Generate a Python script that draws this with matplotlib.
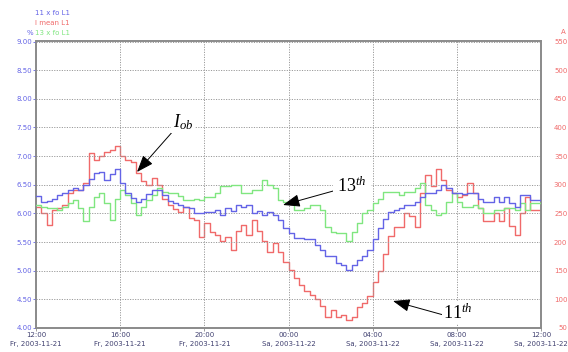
import matplotlib
matplotlib.use("Agg")
import matplotlib.pyplot as plt
import matplotlib.dates as mdates
from matplotlib.ticker import FuncFormatter, FixedLocator
import pandas as pd

plt.rcParams["mathtext.fontset"] = "custom"
plt.rcParams["mathtext.rm"] = "Liberation Serif"
plt.rcParams["mathtext.it"] = "Liberation Serif:italic"

# 15-minute values, Fr 2003-11-21 12:00 .. Sa 2003-11-22 12:00
h11_pct = [6.30, 6.20, 6.22, 6.26, 6.32, 6.35, 6.40, 6.45, 6.40, 6.50, 6.60, 6.70,
           6.72, 6.58, 6.68, 6.78, 6.53, 6.35, 6.27, 6.20, 6.26, 6.33, 6.40, 6.40,
           6.32, 6.22, 6.19, 6.15, 6.12, 6.10, 6.00, 6.00, 6.02, 6.03, 6.06, 5.97,
           6.10, 6.04, 6.15, 6.12, 6.15, 6.00, 6.05, 5.98, 6.02, 5.97, 5.88, 5.75,
           5.66, 5.57, 5.57, 5.55, 5.55, 5.45, 5.36, 5.25, 5.25, 5.13, 5.10, 5.01,
           5.10, 5.18, 5.25, 5.36, 5.55, 5.75, 5.90, 6.03, 6.06, 6.10, 6.15, 6.15,
           6.20, 6.29, 6.35, 6.35, 6.41, 6.50, 6.44, 6.35, 6.35, 6.33, 6.35, 6.35,
           6.26, 6.20, 6.20, 6.29, 6.20, 6.29, 6.18, 6.12, 6.32, 6.32, 6.23, 6.23]

h13_pct = [6.15, 6.12, 6.09, 6.09, 6.06, 6.12, 6.18, 6.23, 6.09, 5.86, 6.12, 6.29,
           6.35, 6.18, 5.88, 6.26, 6.41, 6.32, 6.18, 5.97, 6.12, 6.23, 6.32, 6.44,
           6.38, 6.35, 6.35, 6.30, 6.23, 6.23, 6.25, 6.23, 6.29, 6.29, 6.35, 6.47,
           6.47, 6.50, 6.50, 6.35, 6.35, 6.41, 6.41, 6.58, 6.50, 6.45, 6.23, 6.20,
           6.18, 6.06, 6.06, 6.10, 6.15, 6.15, 6.06, 5.77, 5.68, 5.65, 5.65, 5.51,
           5.68, 5.83, 6.00, 6.06, 6.18, 6.25, 6.38, 6.38, 6.38, 6.32, 6.38, 6.38,
           6.45, 6.53, 6.15, 6.06, 5.97, 6.00, 6.20, 6.35, 6.20, 6.12, 6.12, 6.15,
           6.09, 6.00, 6.00, 6.06, 6.06, 6.09, 6.09, 6.06, 6.18, 6.06, 6.18, 6.18]

i_mean_a = [262, 250, 230, 256, 260, 265, 285, 290, 290, 303, 355, 343,
            350, 358, 360, 367, 350, 343, 340, 320, 306, 300, 312, 300,
            276, 265, 258, 253, 262, 242, 238, 209, 233, 218, 212, 201,
            209, 186, 220, 230, 212, 238, 220, 201, 183, 198, 183, 166,
            151, 138, 125, 115, 108, 100, 88, 70, 81, 70, 73, 64,
            70, 87, 93, 105, 130, 150, 180, 210, 227, 227, 250, 245,
            226, 285, 317, 297, 328, 309, 291, 285, 279, 282, 303, 285,
            259, 236, 236, 250, 236, 259, 228, 212, 250, 279, 256, 256]

legend_labels = ["11 x fo L1", "I mean L1", "13 x fo L1"]
weekday_abbr = {4: "Fr", 5: "Sa"}

BLUE = "#6464e6"
RED = "#f06a6a"
GREEN = "#80e680"

times = pd.date_range("2003-11-21 12:00", periods=len(h11_pct) + 1, freq="15min")


def hold_last(v):
    return list(v) + [v[-1]]


W, H = 568, 352
fig = plt.figure(figsize=(W / 100, H / 100), dpi=100)
ax = fig.add_axes([36 / W, 1 - 328 / H, (541 - 36) / W, (328 - 41.5) / H])
ax2 = ax.twinx()

ax2.step(times, hold_last(i_mean_a), where="post", color=RED, lw=1.0, zorder=2)
ax.step(times, hold_last(h13_pct), where="post", color=GREEN, lw=1.0, zorder=3)
ax.step(times, hold_last(h11_pct), where="post", color=BLUE, lw=1.0, zorder=4)
ax.set_zorder(ax2.get_zorder() + 1)
ax.patch.set_visible(False)

ax.set_xlim(times[0], times[-1])
ax.set_ylim(4, 9)
ax2.set_ylim(50, 550)

yt = [4 + 0.5 * k for k in range(11)]
ax.yaxis.set_major_locator(FixedLocator(yt))
ax.yaxis.set_major_formatter(FuncFormatter(lambda v, p: f"{v:.2f}"))
ax2.yaxis.set_major_locator(FixedLocator([50 + 50 * k for k in range(11)]))
ax2.yaxis.set_major_formatter(FuncFormatter(lambda v, p: f"{v:.0f}"))

xt = pd.date_range("2003-11-21 12:00", "2003-11-22 12:00", freq="4h")
ax.set_xticks(xt)


def time_label(x, pos):
    d = mdates.num2date(x)
    return f"{d:%H:%M}\n{weekday_abbr[d.weekday()]}, {d:%Y-%m-%d}"


ax.xaxis.set_major_formatter(FuncFormatter(time_label))

ax.grid(True, color="#9a9a9a", ls=(0, (1.2, 1.4)), lw=0.7)
for a in (ax, ax2):
    for s in a.spines.values():
        s.set_color("#8a8a8a")
        s.set_linewidth(1.2)

ax.tick_params(axis="y", colors=BLUE, labelsize=5, length=2, pad=1, width=0.6)
ax.tick_params(axis="x", colors="#8a8a8a", labelcolor="#404070", labelsize=5,
               length=2, pad=1, width=0.6)
for t in ax.get_xticklabels():
    t.set_linespacing(1.5)
ax2.tick_params(axis="y", colors="#8a8a8a", labelcolor=RED, labelsize=5,
                length=0, pad=19)
for t in ax2.get_yticklabels():
    t.set_horizontalalignment("right")

# channel captions above the left axis
fig.text(35 / W, 1 - 13 / H, legend_labels[0], color=BLUE, fontsize=5, va="center")
fig.text(35 / W, 1 - 23 / H, legend_labels[1], color=RED, fontsize=5, va="center")
fig.text(35 / W, 1 - 33 / H, legend_labels[2], color=GREEN, fontsize=5, va="center")
fig.text(33 / W, 1 - 33 / H, "%", color=BLUE, fontsize=5, va="center", ha="right")
fig.text(566 / W, 1 - 32 / H, "A", color=RED, fontsize=5, va="center", ha="right")

arrow = dict(arrowstyle="-|>,head_length=0.8,head_width=0.3", color="black",
             lw=0.7, shrinkA=0, shrinkB=0)
box = dict(fc="white", ec="none", pad=1)


def px(x, y):
    return (x / W, 1 - y / H)


ax.annotate("$I_{ob}$", xy=px(137, 172), xycoords="figure fraction",
            xytext=px(183, 122), textcoords="figure fraction", fontsize=13,
            ha="center", va="center", bbox=box,
            arrowprops=dict(arrow, relpos=(0.15, 0.2)), zorder=10)
ax.annotate("13$^{th}$", xy=px(283, 205), xycoords="figure fraction",
            xytext=px(352, 186), textcoords="figure fraction", fontsize=13,
            ha="center", va="center", family="Liberation Serif",
            bbox=dict(fc="white", ec="none", pad=3),
            arrowprops=dict(arrow, relpos=(0.0, 0.3)), zorder=10)
ax.annotate("11$^{th}$", xy=px(393, 301), xycoords="figure fraction",
            xytext=px(458, 313), textcoords="figure fraction", fontsize=13,
            ha="center", va="center", family="Liberation Serif",
            bbox=box, arrowprops=dict(arrow, relpos=(0.0, 0.4)), zorder=10)

fig.savefig("out.png", dpi=100)
